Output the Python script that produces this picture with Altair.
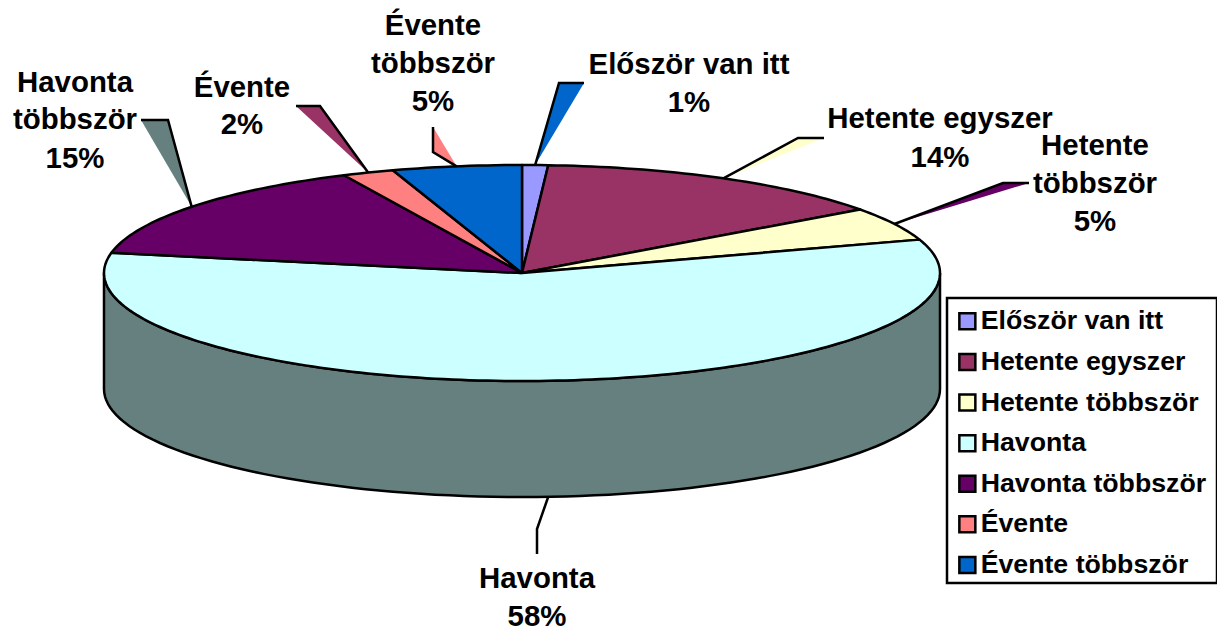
import math
import altair as alt
import pandas as pd

categories = ["Először van itt", "Hetente egyszer", "Hetente többször", "Havonta",
              "Havonta többször", "Évente", "Évente többször"]
shares = [1, 14, 5, 58, 15, 2, 5]
colors = ["#9999FF", "#993366", "#FFFFCC", "#CCFFFF", "#660066", "#FF8080", "#0066CC"]
side_color = "#668080"

# pie geometry in picture units
CX, CY, RX, RY, DEPTH = 522, 273, 418, 108, 116
W, H = 1209, 618

# label lines: text, centre x, baseline y
label_lines = [
    ("Először van itt", 689, 74), ("1%", 689, 112),
    ("Hetente egyszer", 940, 128), ("14%", 940, 167),
    ("Hetente", 1095, 155), ("többször", 1095, 193), ("5%", 1095, 231),
    ("Havonta", 537, 588), ("58%", 537, 626),
    ("Havonta", 75, 92), ("többször", 75, 129), ("15%", 75, 168),
    ("Évente", 242, 97), ("2%", 242, 134),
    ("Évente", 433, 35), ("többször", 433, 73), ("5%", 433, 111),
]
# leader line anchors near each label: two points, then the tip on the rim of the slice
leader_anchors = [
    [(584, 83), (559, 83)],
    [(824, 138), (798, 138)],
    [(1029, 183), (1003, 183)],
    [(537, 554), (537, 529)],
    [(141, 120), (168, 120)],
    [(296, 106), (320, 106)],
    [(433, 127), (433, 152)],
]
leader_fills = ["#0066CC", "#FFFFCC", "#660066", "#FFFFFF", "#668080", "#993366", "#FF8080"]
legend_box = [{"x": 947, "x2": 1217, "y": 298, "y2": 583}]


def rim(deg, dy=0):
    t = math.radians(deg)
    return CX + RX * math.sin(t), CY - RY * math.cos(t) + dy


# slices
rows = []
start = 0.0
mids = []
for name, s in zip(categories, shares):
    end = start + s * 3.6
    mids.append((start + end) / 2)
    pts = [(CX, CY)]
    n = max(2, int(s * 3))
    for k in range(n + 1):
        pts.append(rim(start + (end - start) * k / n))
    pts.append((CX, CY))
    for i, (x, y) in enumerate(pts):
        rows.append({"name": name, "x": x, "y": y, "i": i})
    start = end
slices = pd.DataFrame(rows)

# side wall
pts = [rim(90 + k * 2) for k in range(91)] + [rim(270 - k * 2, DEPTH) for k in range(91)]
pts.append(pts[0])
side = pd.DataFrame([{"x": x, "y": y, "i": i} for i, (x, y) in enumerate(pts)])

# leaders
rows = []
for j, (anchors, fill, mid) in enumerate(zip(leader_anchors, leader_fills, mids)):
    dy = DEPTH if 90 < mid < 270 else 0
    tip = rim(mid, dy)
    for i, (x, y) in enumerate(anchors + [tip]):
        rows.append({"leader": j, "fill": fill, "x": x, "y": y, "i": i})
leaders = pd.DataFrame(rows)

labels = pd.DataFrame(label_lines, columns=["text", "x", "y"])

xs = alt.Scale(domain=[8, 8 + W], nice=False, zero=False)
ys = alt.Scale(domain=[8 + H, 8], nice=False, zero=False)
X = alt.X("x:Q", scale=xs, axis=None)
Y = alt.Y("y:Q", scale=ys, axis=None)
FONT = "Liberation Sans"

side_layer = alt.Chart(side).mark_line(
    fill=side_color, stroke="black", strokeWidth=2.5, strokeJoin="round"
).encode(x=X, y=Y, order="i:Q")

box_layer = alt.Chart(pd.DataFrame(legend_box)).mark_rect(
    fill="white", stroke="black", strokeWidth=2.5
).encode(x=X, x2="x2:Q", y=Y, y2="y2:Q")

slice_layer = alt.Chart(slices).mark_line(
    stroke="black", strokeWidth=2.5, strokeJoin="round", clip=False
).encode(
    x=X, y=Y, order="i:Q",
    fill=alt.Fill(
        "name:N",
        scale=alt.Scale(domain=categories, range=colors),
        legend=alt.Legend(
            title=None, orient="none", legendX=948 - 8, legendY=298 - 8,
            padding=10,
            symbolType="square", symbolSize=256, symbolStrokeColor="black",
            symbolStrokeWidth=2.5, symbolOpacity=1, symbolOffset=-4,
            labelFont=FONT, labelFontWeight="bold", labelFontSize=26.7,
            labelColor="black", rowPadding=12.6, labelOffset=0,
            labelLimit=300,
        ),
    ),
)

leader_layer = alt.Chart(leaders).mark_line(
    stroke="black", strokeWidth=2.5, strokeJoin="miter"
).encode(
    x=X, y=Y, order="i:Q", detail="leader:N",
    fill=alt.Fill("fill:N", scale=None),
)

text_layer = alt.Chart(labels).mark_text(
    font=FONT, fontWeight="bold", fontSize=29.4, color="black",
    align="center", baseline="alphabetic",
).encode(x=X, y=Y, text="text:N")

chart = (
    alt.layer(side_layer, box_layer, slice_layer, leader_layer, text_layer)
    .properties(width=W, height=H, padding=0, background="white",
                autosize=alt.AutoSizeParams(type="none"))
    .configure_view(stroke=None)
)

chart.save("out.html", embed_options={"renderer": "svg", "actions": False})
